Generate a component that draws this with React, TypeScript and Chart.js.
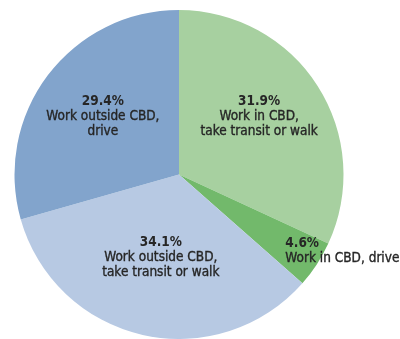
import React, { useEffect, useRef } from "react";
import { Chart, registerables } from "chart.js";

Chart.register(...registerables);

const categories = [
  ["Work in CBD,", "take transit or walk"],
  ["Work in CBD, drive"],
  ["Work outside CBD,", "take transit or walk"],
  ["Work outside CBD,", "drive"],
];
const shares = [31.9, 4.6, 34.1, 29.4];
const percentLabels = ["31.9%", "4.6%", "34.1%", "29.4%"];
const sliceColors = ["#a7d0a0", "#72b96b", "#b7c9e3", "#82a4cc"];

const labelPlugin = {
  id: "sliceLabels",
  afterDatasetsDraw(chart: any) {
    const { ctx } = chart;
    const meta = chart.getDatasetMeta(0);
    const fam = '"DejaVu Sans Condensed", "DejaVu Sans", sans-serif';
    const radial = [0.6, 0.75, 0.5, 0.58];
    const shift = [
      [-3, -5],
      [3, 2],
      [0, 3],
      [0, 0],
    ];
    meta.data.forEach((arc: any, i: number) => {
      const mid = (arc.startAngle + arc.endAngle) / 2;
      const r = arc.outerRadius * radial[i];
      const x = arc.x + Math.cos(mid) * r + shift[i][0];
      const y = arc.y + Math.sin(mid) * r + shift[i][1];
      const lines = categories[i];
      const lh = 15;
      ctx.save();
      ctx.fillStyle = "#262626";
      ctx.strokeStyle = "#262626";
      ctx.lineWidth = 0.35;
      ctx.textBaseline = "middle";
      const draw = (t: string, tx: number, ty: number, stroke: boolean) => {
        ctx.fillText(t, tx, ty);
        if (stroke) ctx.strokeText(t, tx, ty);
      };
      ctx.textAlign = i === 1 ? "left" : "center";
      const total = lines.length + 1;
      const y0 = i === 1 ? y : y - ((total - 1) * lh) / 2;
      ctx.font = `bold 13.5px ${fam}`;
      draw(percentLabels[i], x, y0, false);
      ctx.font = `13.5px ${fam}`;
      lines.forEach((l, k) => draw(l, x, y0 + lh * (k + 1), true));
      ctx.restore();
    });
  },
};

export default function App() {
  const ref = useRef<HTMLCanvasElement>(null);
  useEffect(() => {
    const chart = new Chart(ref.current!, {
      type: "pie",
      data: {
        labels: categories.map((c) => c.join(" ")),
        datasets: [
          {
            data: shares,
            backgroundColor: sliceColors,
            borderWidth: 0,
          },
        ],
      },
      options: {
        animation: false,
        responsive: false,
        layout: { padding: { left: 14, right: 56, top: 10, bottom: 0 } },
        plugins: { legend: { display: false }, tooltip: { enabled: false } },
      },
      plugins: [labelPlugin],
    });
    return () => chart.destroy();
  }, []);
  return (
    <div style={{ position: "fixed", left: 0, top: 0, width: 400, height: 339, background: "#fff" }}>
      <canvas ref={ref} width={400} height={339} />
    </div>
  );
}
